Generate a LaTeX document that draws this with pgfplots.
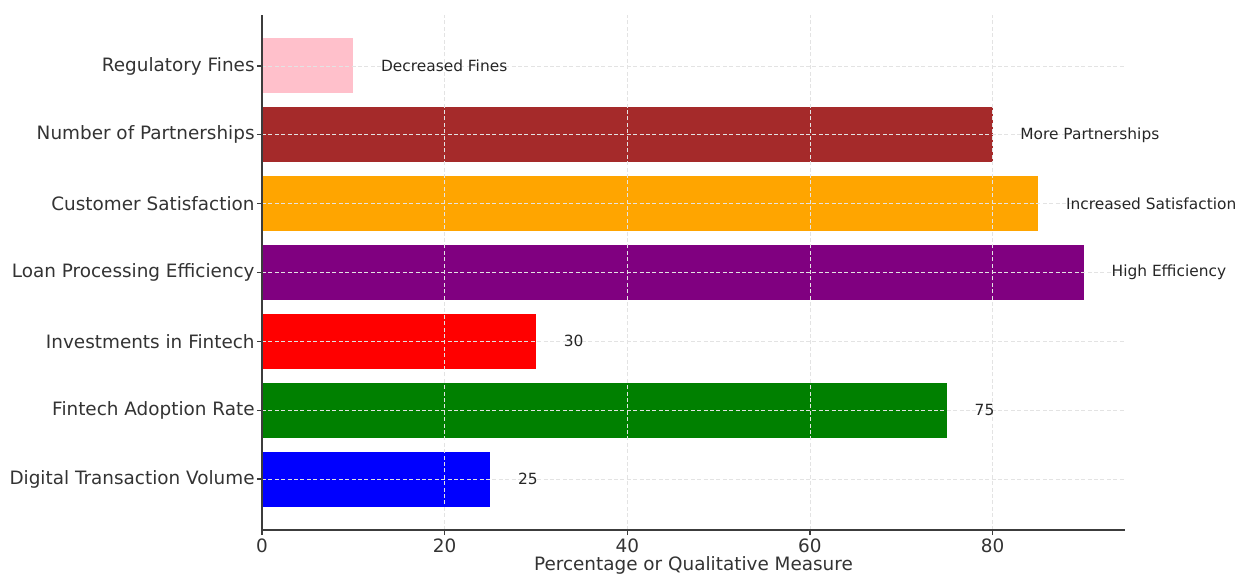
\documentclass[border=0pt]{standalone}
\usepackage{fontspec}
\setmainfont{DejaVu Sans}
\usepackage{pgfplots}
\pgfplotsset{compat=1.18}
\definecolor{cpink}{RGB}{255,192,203}
\definecolor{cbrown}{RGB}{165,42,42}
\definecolor{corange}{RGB}{255,165,0}
\definecolor{cpurple}{RGB}{128,0,128}
\definecolor{cred}{RGB}{255,0,0}
\definecolor{cgreen}{RGB}{0,128,0}
\definecolor{cblue}{RGB}{0,0,255}
\definecolor{spine}{RGB}{60,60,60}
\begin{document}
\begin{tikzpicture}
\begin{axis}[
  name=ax,
  scale only axis,
  width=431.5pt, height=257.5pt,
  xbar, bar width=0.8, bar shift=0pt,
  xmin=0, xmax=94.5,
  ymin=-0.74, ymax=6.74,
  ytick={0,1,2,3,4,5,6},
  yticklabels={Digital Transaction Volume, Fintech Adoption Rate, Investments in Fintech, Loan Processing Efficiency, Customer Satisfaction, Number of Partnerships, Regulatory Fines},
  xtick={0,20,40,60,80},
  axis x line*=bottom, axis y line*=left,
  axis line style={spine, line width=0.7pt},
  tick style={spine, line width=0.6pt},
  tick align=outside, major tick length=2.5pt,
  xmajorgrids, ymajorgrids,
  grid style={gray!22, dash pattern=on 2pt off 1.2pt, line width=0.4pt},
  axis on top,
  tick label style={font=\fontsize{9.2}{11}\selectfont, text=black!80},
  yticklabel style={inner sep=1pt},
  xticklabel style={inner sep=1.5pt},
  /pgf/number format/assume math mode=true,
  xlabel={Percentage or Qualitative Measure},
  xlabel style={font=\fontsize{9.2}{11}\selectfont, text=black!80, yshift=3pt},
  nodes near coords,
  point meta=explicit symbolic,
  every node near coord/.style={anchor=west, inner sep=0pt, xshift=13.7pt, font=\fontsize{7.7}{9}\selectfont, text=black!85},
]
\addplot[fill=cblue, draw=none] coordinates {(25,0) [25]};
\addplot[fill=cgreen, draw=none] coordinates {(75,1) [75]};
\addplot[fill=cred, draw=none] coordinates {(30,2) [30]};
\addplot[fill=cpurple, draw=none] coordinates {(90,3) [High Efficiency]};
\addplot[fill=corange, draw=none] coordinates {(85,4) [Increased Satisfaction]};
\addplot[fill=cbrown, draw=none] coordinates {(80,5) [More Partnerships]};
\addplot[fill=cpink, draw=none] coordinates {(10,6) [Decreased Fines]};
\end{axis}
\pgfresetboundingbox
\path ([xshift=-131pt, yshift=-23pt]ax.south west) rectangle ([xshift=56pt, yshift=7.5pt]ax.north east);
\end{tikzpicture}
\end{document}
